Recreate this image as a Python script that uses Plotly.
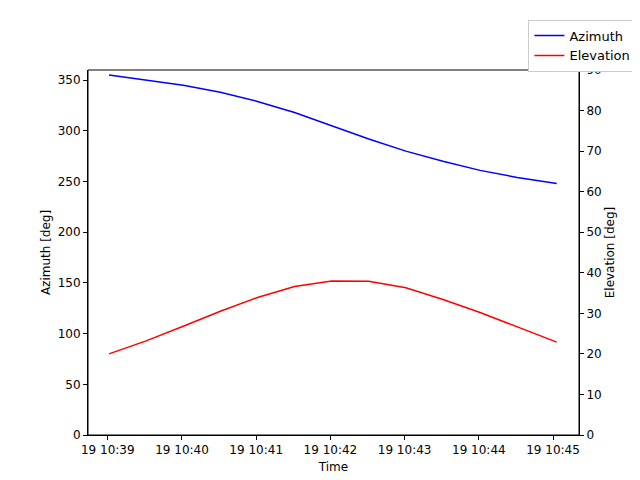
import plotly.graph_objects as go

times = ["2024-01-19 10:39:01","2024-01-19 10:39:31","2024-01-19 10:40:01","2024-01-19 10:40:31",
         "2024-01-19 10:41:01","2024-01-19 10:41:31","2024-01-19 10:42:01","2024-01-19 10:42:31",
         "2024-01-19 10:43:01","2024-01-19 10:43:31","2024-01-19 10:44:01","2024-01-19 10:44:31",
         "2024-01-19 10:45:03"]
azimuth = [355, 350, 345, 338, 329, 318, 305, 292, 280, 270, 261, 254, 248]
elevation = [20.0, 23.2, 26.8, 30.5, 33.9, 36.6, 38.0, 37.9, 36.3, 33.4, 30.2, 26.6, 22.9]
tick_vals = ["2024-01-19 10:%02d:00" % m for m in range(39, 46)]
tick_text = ["19 10:%02d" % m for m in range(39, 46)]

fig = go.Figure()
fig.add_trace(go.Scatter(x=times, y=azimuth, mode="lines", name="Azimuth",
                         line=dict(color="blue", width=1.5)))
fig.add_trace(go.Scatter(x=times, y=elevation, mode="lines", name="Elevation",
                         line=dict(color="red", width=1.5), yaxis="y2"))
axstyle = dict(showgrid=False, zeroline=False, showline=True, linecolor="black", mirror=False,
               ticks="outside", ticklen=4, tickcolor="black", automargin=False,
               tickfont=dict(size=12))
tf = dict(size=12)
fig.update_layout(
    width=640, height=480, paper_bgcolor="white", plot_bgcolor="white",
    margin=dict(l=80, r=64, t=58, b=53),
    font=dict(family="DejaVu Sans", size=12, color="black"),
    xaxis=dict(**axstyle, range=["2024-01-19 10:38:44", "2024-01-19 10:45:21"],
               tickvals=tick_vals, ticktext=tick_text, title=dict(text="Time", standoff=6, font=tf)),
    yaxis=dict(**axstyle, range=[0, 360], dtick=50,
               title=dict(text="Azimuth [deg]", standoff=4, font=tf)),
    yaxis2=dict(**axstyle, overlaying="y", side="right", range=[0, 90], dtick=10,
                title=dict(text="Elevation [deg]", standoff=4, font=tf)),
    legend=dict(x=634, y=473, xref="paper", yref="paper", xanchor="right", yanchor="top",
                bordercolor="#cccccc", borderwidth=1, bgcolor="white", font=dict(size=13)),
    shapes=[dict(type="rect", xref="paper", yref="paper", x0=0, x1=1, y0=0, y1=1,
                 line=dict(color="black", width=1))],
)
# legend placement in paper fraction of plot area
fig.layout.legend.x = (634 - 80) / (576 - 80)
fig.layout.legend.y = (427 - 7) / (427 - 58)
fig.write_html("out.html")
